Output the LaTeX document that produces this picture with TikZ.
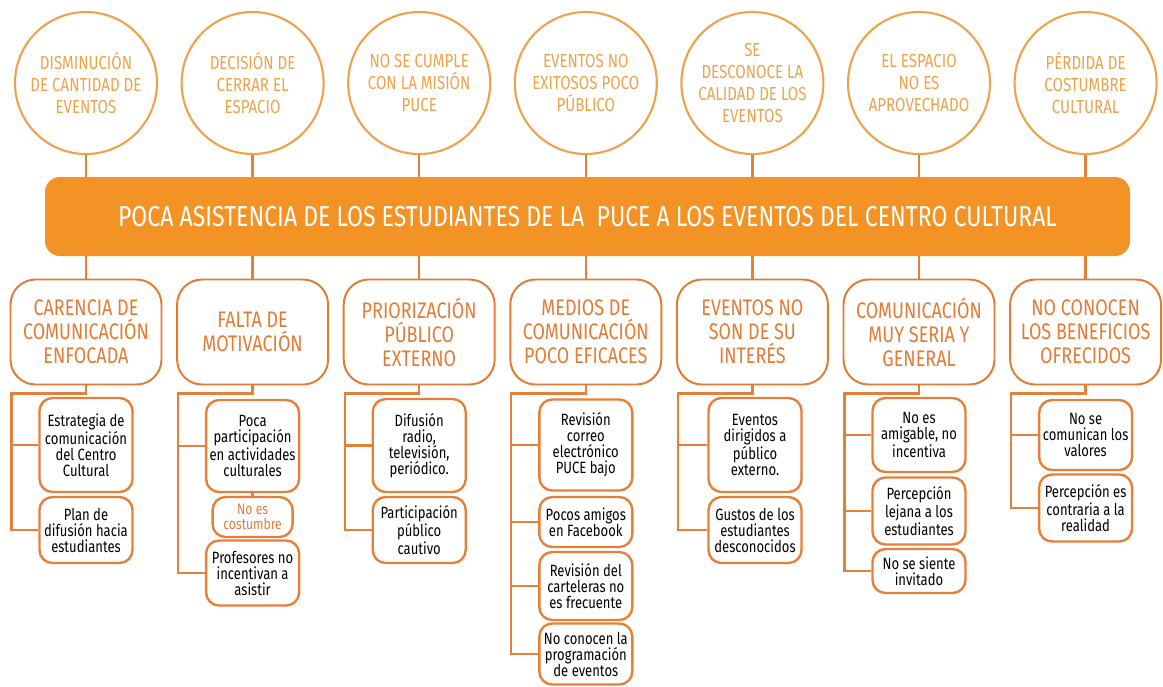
\documentclass[tikz,border=0pt]{standalone}
\usepackage{fontspec}
\setmainfont[FakeStretch=0.8]{Fira Sans}
\usetikzlibrary{calc}
\definecolor{circorange}{HTML}{EDA24C}
\definecolor{barorange}{HTML}{F39325}
\definecolor{boxorange}{HTML}{E27B36}
\definecolor{lineorange}{HTML}{E5803A}
\newcommand{\pix}{0.025cm}

\tikzset{
  efecto/.style={circle, draw=circorange, line width=1.5pt, minimum size=142*\pix, inner sep=0pt,
    align=center, text=circorange, font=\fontsize{13.4}{15.6}\selectfont},
  problema/.style={rectangle, rounded corners=15*\pix, fill=barorange, minimum width=1085*\pix,
    minimum height=79*\pix, text=white, font=\fontsize{20.5}{22}\selectfont},
  causa/.style={rectangle, rounded corners=25*\pix, draw=boxorange, line width=1.4pt,
    minimum width=151*\pix, minimum height=105*\pix, align=center, text=boxorange,
    font=\fontsize{16}{17}\selectfont},
  subcausa/.style={rectangle, rounded corners=13*\pix, draw=lineorange, line width=1.7pt,
    minimum width=93*\pix, inner sep=1pt, align=center, font=\fontsize{11.6}{11.4}\selectfont},
  enlace/.style={lineorange, line width=1.6pt},
}

\begin{document}
\begin{tikzpicture}[x=\pix, y=-\pix]
        \useasboundingbox (0,0) rectangle (1163,686);

        \node[problema] (bar) at (587.5,216.5) {POCA ASISTENCIA DE LOS ESTUDIANTES DE LA\ \ PUCE A LOS EVENTOS DEL CENTRO CULTURAL};

        \foreach \i/\txt in {1/{DISMINUCIÓN\\DE CANTIDAD DE\\EVENTOS},
                              2/{DECISIÓN DE\\CERRAR EL\\ESPACIO},
                              3/{NO SE CUMPLE\\CON LA MISIÓN\\PUCE},
                              4/{EVENTOS NO\\EXITOSOS POCO\\PÚBLICO},
                              5/{SE\\DESCONOCE LA\\CALIDAD DE LOS\\EVENTOS},
                              6/{EL ESPACIO\\NO ES\\APROVECHADO},
                              7/{PÉRDIDA DE\\COSTUMBRE\\CULTURAL}} {
            \node[efecto] (e\i) at ({86+166.6*(\i-1)},83) {\txt};
            \draw[enlace] (e\i.south) -- (e\i.south |- bar.north);
        }

        \foreach \i/\txt in {1/{CARENCIA DE\\COMUNICACIÓN\\ENFOCADA},
                              2/{FALTA DE\\MOTIVACIÓN},
                              3/{PRIORIZACIÓN\\PÚBLICO\\EXTERNO},
                              4/{MEDIOS DE\\COMUNICACIÓN\\POCO EFICACES},
                              5/{EVENTOS NO\\SON DE SU\\INTERÉS},
                              6/{COMUNICACIÓN\\MUY SERIA Y\\GENERAL},
                              7/{NO CONOCEN\\LOS BENEFICIOS\\OFRECIDOS}} {
            \node[causa] (c\i) at ({86+166.6*(\i-1)},332) {\txt};
            \draw[enlace] (bar.south -| c\i.north) -- (c\i.north);
            \coordinate (t\i) at ($(c\i.south west)+(2,8)$);
        }

        \node[subcausa, minimum height=94*\pix] (s1a) at (86,445) {Estrategia de\\comunicación\\del Centro\\Cultural};
        \node[subcausa, minimum height=66*\pix] (s1b) at (86,530) {Plan de\\difusión hacia\\estudiantes};

        \node[subcausa, minimum height=92*\pix] (s2a) at (252.6,446) {Poca\\participación\\en actividades\\culturales};
        \node[subcausa, minimum height=40*\pix, minimum width=80*\pix, text=boxorange,
              font=\fontsize{10.8}{10.6}\selectfont] (s2n) at (252.6,517) {No es\\costumbre};
        \node[subcausa, minimum height=65*\pix] (s2b) at (252.6,573) {Profesores no\\incentivan a\\asistir};

        \node[subcausa, minimum height=93*\pix] (s3a) at (419.2,445.5) {Difusión\\radio,\\televisión,\\periódico.};
        \node[subcausa, minimum height=66*\pix] (s3b) at (419.2,530) {Participación\\público\\cautivo};

        \node[subcausa, minimum height=91*\pix] (s4a) at (585.8,445) {Revisión\\correo\\electrónico\\PUCE bajo};
        \node[subcausa, minimum height=50*\pix] (s4b) at (585.8,522) {Pocos amigos\\en Facebook};
        \node[subcausa, minimum height=68*\pix] (s4c) at (585.8,586) {Revisión del\\carteleras no\\es frecuente};
        \node[subcausa, minimum height=61*\pix] (s4d) at (585.8,654) {No conocen la\\programación\\de eventos};

        \node[subcausa, minimum height=94*\pix] (s5a) at (755,445) {Eventos\\dirigidos a\\público\\externo.};
        \node[subcausa, minimum height=66*\pix] (s5b) at (755,530) {Gustos de los\\estudiantes\\desconocidos};

        \node[subcausa, minimum height=74*\pix] (s6a) at (919,435) {No es\\amigable, no\\incentiva};
        \node[subcausa, minimum height=67*\pix] (s6b) at (919,511) {Percepción\\lejana a los\\estudiantes};
        \node[subcausa, minimum height=44*\pix] (s6c) at (919,571) {No se siente\\invitado};

        \node[subcausa, minimum height=70*\pix] (s7a) at (1085.6,435) {No se\\comunican los\\valores};
        \node[subcausa, minimum height=67*\pix] (s7b) at (1085.6,508) {Percepción es\\contraria a la\\realidad};

        \draw[enlace] (c1.south) |- (t1) |- (s1b.west);
        \draw[enlace] (t1 |- s1a.west) -- (s1a.west);

        \draw[enlace] (c2.south) |- (t2) |- (s2b.west);
        \draw[enlace] (t2 |- s2a.west) -- (s2a.west);
        \draw[enlace] (s2a.south) -- (s2n.north);

        \draw[enlace] (c3.south) |- (t3) |- (s3b.west);
        \draw[enlace] (t3 |- s3a.west) -- (s3a.west);

        \draw[enlace] (c4.south) |- (t4) |- (s4d.west);
        \foreach \s in {s4a,s4b,s4c} {
            \draw[enlace] (t4 |- \s.west) -- (\s.west);
        }

        \draw[enlace] (c5.south) |- (t5) |- (s5b.west);
        \draw[enlace] (t5 |- s5a.west) -- (s5a.west);

        \draw[enlace] (c6.south) |- (t6) |- (s6c.west);
        \draw[enlace] (t6 |- s6a.west) -- (s6a.west);
        \draw[enlace] (t6 |- s6b.west) -- (s6b.west);

        \draw[enlace] (c7.south) |- (t7) |- (s7b.west);
        \draw[enlace] (t7 |- s7a.west) -- (s7a.west);
\end{tikzpicture}
\end{document}
